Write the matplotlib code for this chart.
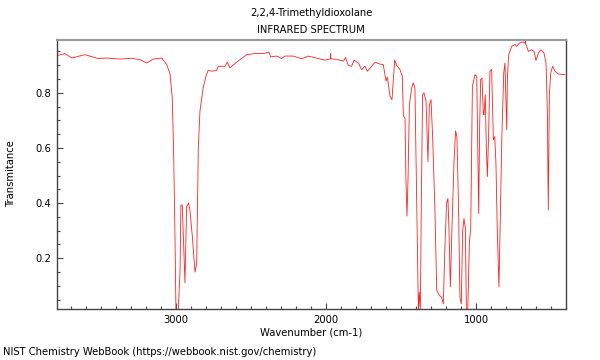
import numpy as np
import matplotlib
matplotlib.use("Agg")
import matplotlib.pyplot as plt
from matplotlib.ticker import MultipleLocator

# spectrum (wavenumber cm-1, transmittance)
wavenumber = [3791, 3740, 3695, 3607, 3518, 3462, 3373, 3295, 3240, 3195, 3151, 3095,
              3062, 3040, 3025, 3016, 3007, 3000, 2985, 2973, 2967, 2958, 2949, 2940,
              2929, 2916, 2907, 2891, 2873, 2862, 2851, 2840, 2818, 2800, 2785, 2762,
              2729, 2718, 2673, 2658, 2640, 2607, 2529, 2473, 2418, 2380, 2369, 2329,
              2296, 2273, 2218, 2162, 2118, 2073, 2007, 1970, 1969, 1968, 1929, 1884,
              1869, 1851, 1829, 1813, 1784, 1762, 1740, 1724, 1673, 1640, 1618, 1600,
              1591, 1573, 1560, 1551, 1542, 1529, 1507, 1491, 1484, 1473, 1467, 1460,
              1453, 1444, 1429, 1418, 1407, 1396, 1384, 1378, 1371, 1364, 1356, 1347,
              1333, 1320, 1311, 1300, 1289, 1273, 1262, 1245, 1229, 1218, 1207, 1196,
              1187, 1180, 1171, 1160, 1147, 1136, 1127, 1116, 1107, 1098, 1089, 1080,
              1071, 1064, 1055, 1044, 1035, 1024, 1007, 995, 987, 982, 976, 969,
              960, 951, 947, 938, 931, 924, 915, 907, 896, 884, 875, 867,
              858, 847, 835, 827, 815, 807, 800, 795, 791, 782, 762, 740,
              729, 711, 685, 672, 671, 670, 651, 629, 613, 600, 584, 567,
              547, 533, 524, 518, 511, 502, 489, 473, 451, 407]
transmittance = [0.935, 0.942, 0.926, 0.938, 0.924, 0.926, 0.922, 0.925, 0.920, 0.908, 0.922, 0.926,
                 0.902, 0.870, 0.786, 0.600, 0.297, 0.010, 0.010, 0.150, 0.393, 0.393, 0.253, 0.111,
                 0.388, 0.400, 0.376, 0.280, 0.150, 0.180, 0.600, 0.734, 0.820, 0.860, 0.882, 0.878,
                 0.881, 0.896, 0.896, 0.911, 0.890, 0.906, 0.938, 0.942, 0.942, 0.947, 0.930, 0.933,
                 0.924, 0.933, 0.933, 0.923, 0.933, 0.927, 0.918, 0.923, 0.942, 0.923, 0.921, 0.915,
                 0.927, 0.899, 0.896, 0.918, 0.908, 0.884, 0.896, 0.878, 0.911, 0.904, 0.902, 0.842,
                 0.857, 0.787, 0.775, 0.848, 0.919, 0.900, 0.884, 0.860, 0.716, 0.708, 0.484, 0.353,
                 0.490, 0.756, 0.817, 0.836, 0.817, 0.423, 0.010, 0.077, 0.010, 0.423, 0.793, 0.800,
                 0.770, 0.550, 0.755, 0.775, 0.641, 0.362, 0.084, 0.066, 0.059, 0.035, 0.241, 0.399,
                 0.417, 0.300, 0.096, 0.313, 0.544, 0.662, 0.640, 0.375, 0.059, 0.035, 0.300, 0.344,
                 0.310, 0.010, 0.010, 0.257, 0.310, 0.823, 0.865, 0.860, 0.544, 0.362, 0.666, 0.848,
                 0.853, 0.724, 0.720, 0.793, 0.600, 0.496, 0.666, 0.878, 0.885, 0.629, 0.641, 0.544,
                 0.300, 0.096, 0.423, 0.654, 0.872, 0.908, 0.760, 0.666, 0.848, 0.938, 0.968, 0.975,
                 0.968, 0.980, 0.984, 0.980, 0.993, 0.980, 0.950, 0.956, 0.950, 0.917, 0.944, 0.956,
                 0.944, 0.908, 0.726, 0.375, 0.787, 0.872, 0.896, 0.878, 0.868, 0.865]

title_1 = "2,2,4-Trimethyldioxolane"
title_2 = "INFRARED SPECTRUM"
x_label = "Wavenumber (cm-1)"
y_label = "Transmitance"
footer = "NIST Chemistry WebBook (https://webbook.nist.gov/chemistry)"

plt.rcParams['font.family'] = 'DejaVu Sans'
plt.rcParams['font.size'] = 7.2

fig = plt.figure(figsize=(6, 3.6), dpi=100)
ax = fig.add_axes([57 / 600, 1 - 308.5 / 360, (566 - 57) / 600, (308.5 - 39.5) / 360])

ax.plot(wavenumber, transmittance, color='#ff2020', linewidth=0.6)

ax.set_xlim(3793, 400)
ax.set_ylim(0.018, 0.993)
ax.xaxis.set_major_locator(MultipleLocator(1000))
ax.xaxis.set_minor_locator(MultipleLocator(100))
ax.yaxis.set_major_locator(MultipleLocator(0.2))
ax.yaxis.set_minor_locator(MultipleLocator(0.05))
ax.tick_params(which='both', direction='in', color='#444444', width=0.8,
               top=False, right=False, labelsize=7.2)
ax.tick_params(axis='x', which='major', length=4, pad=5)
ax.tick_params(axis='y', which='major', length=4, pad=4)
ax.tick_params(which='minor', length=2.5)

for side in ['left', 'bottom', 'right']:
    ax.spines[side].set_color('#444444')
    ax.spines[side].set_linewidth(1.0)
ax.spines['top'].set_color('#999999')
ax.spines['top'].set_linewidth(1.5)

ax.set_xlabel(x_label, labelpad=1.5)
ax.set_ylabel(y_label, labelpad=14)
fig.text(311 / 600, 1 - 13 / 360, title_1, va='center', ha='center')
fig.text(311 / 600, 1 - 30 / 360, title_2, va='center', ha='center')
fig.text(3 / 600, 1 - 352 / 360, footer, va='center', ha='left')

fig.savefig("out.png", dpi=100)
